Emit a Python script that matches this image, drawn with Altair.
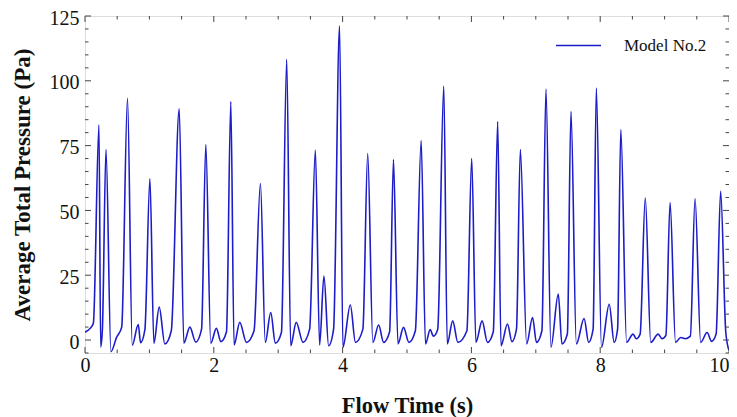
import altair as alt
import pandas as pd

time_s = [0.0, 0.08, 0.13, 0.217, 0.243, 0.27, 0.326, 0.403, 0.49, 0.57,
          0.66, 0.734, 0.827, 0.863, 0.93, 1.008, 1.07, 1.152, 1.24, 1.34,
          1.463, 1.535, 1.628, 1.72, 1.81, 1.876, 1.953, 2.04, 2.11, 2.197,
          2.264, 2.315, 2.403, 2.507, 2.625, 2.724, 2.80, 2.884, 2.956, 3.05,
          3.132, 3.194, 3.28, 3.385, 3.488, 3.577, 3.643, 3.71, 3.783, 3.86,
          3.953, 4.005, 4.12, 4.2, 4.315, 4.39, 4.47, 4.56, 4.636, 4.73,
          4.79, 4.86, 4.946, 5.03, 5.13, 5.22, 5.287, 5.36, 5.41, 5.477,
          5.571, 5.625, 5.71, 5.79, 5.93, 6.005, 6.07, 6.166, 6.25, 6.34,
          6.408, 6.46, 6.56, 6.63, 6.70, 6.76, 6.858, 6.95, 7.01, 7.095,
          7.158, 7.235, 7.349, 7.406, 7.49, 7.546, 7.63, 7.75, 7.82, 7.89,
          7.94, 8.02, 8.14, 8.217, 8.27, 8.32, 8.41, 8.51, 8.56, 8.62,
          8.70, 8.785, 8.9, 8.96, 9.02, 9.085, 9.17, 9.25, 9.32, 9.40,
          9.473, 9.56, 9.66, 9.73, 9.80, 9.87, 9.95, 10.0]
pressure_pa = [3.0, 4.5, 6.5, 83.0, -2.7, 4.0, 73.5, -4.5, 1.0, 5.0,
               93.3, -2.0, 6.0, -1.0, 4.0, 62.2, -1.3, 12.7, -1.5, 3.6,
               89.2, -1.2, 5.0, -0.8, 4.2, 75.4, -1.2, 4.5, -0.6, 3.2,
               92.0, -1.9, 6.8, -0.9, 3.6, 60.4, -0.9, 10.6, -1.2, 2.9,
               108.3, -2.2, 6.8, -0.9, 4.2, 73.2, -1.9, 24.7, -2.2, 4.2,
               121.2, -2.8, 13.5, -0.9, 4.2, 71.9, -0.9, 5.8, -0.9, 3.2,
               69.6, -1.5, 4.9, -0.9, 3.6, 77.0, -1.5, 4.0, 1.5, 4.2,
               98.0, -1.5, 7.4, -0.9, 3.6, 70.0, -0.9, 7.4, -0.9, 3.2,
               84.3, -2.2, 6.2, -0.6, 4.2, 73.5, -1.5, 8.7, -0.9, 3.6,
               96.8, -2.8, 17.7, -1.5, 2.3, 88.2, -1.5, 8.3, -0.9, 4.2,
               97.2, -2.8, 13.8, -0.9, 4.2, 81.2, -0.9, 2.3, 0.5, 2.3,
               54.9, -0.9, 2.3, 0.5, 1.8, 53.0, -0.9, 1.0, 0.5, 1.5,
               54.6, -0.9, 2.9, -0.5, 2.3, 57.4, 3.0, -4.0]
series_name = "Model No.2"

x_major = [0, 2, 4, 6, 8, 10]
x_minor = [0.5, 1, 1.5, 2.5, 3, 3.5, 4.5, 5, 5.5, 6.5, 7, 7.5, 8.5, 9, 9.5]
y_major = [0, 25, 50, 75, 100, 125]
y_minor = [-5, 5, 10, 15, 20, 30, 35, 40, 45, 55, 60, 65, 70, 80, 85, 90, 95,
           105, 110, 115, 120]

W, H = 644, 337
SERIF = "Liberation Serif"
LINE_COLOR = "#1c1cc8"
TICK_COLOR = "#444444"

xs = alt.Scale(domain=[0, 10], nice=False, zero=False)
ys = alt.Scale(domain=[-5, 125], nice=False, zero=False)

x_axis = alt.Axis(values=x_major, format="d", title="Flow Time (s)",
                  grid=False, ticks=False, domain=False, labelPadding=2,
                  labelFlush=False,
                  labelAlign={"expr": "datum.value == 10 ? 'right' : 'center'"},
                  labelFont=SERIF, labelFontSize=20, labelColor="#111",
                  titleFont=SERIF, titleFontSize=22.5, titleFontWeight="bold",
                  titleColor="#111", titlePadding=19)
y_axis = alt.Axis(values=y_major, format="d",
                  title="Average Total Pressure (Pa)",
                  grid=False, ticks=False, domain=False, labelPadding=6,
                  labelFlush=False, labelOffset=2,
                  labelFont=SERIF, labelFontSize=20, labelColor="#111",
                  titleFont=SERIF, titleFontSize=23, titleFontWeight="bold",
                  titleColor="#111", titlePadding=15)

df = pd.DataFrame({"t": time_s, "p": pressure_pa, "series": series_name})

line = alt.Chart(df).mark_line(
    interpolate="monotone", strokeWidth=1.6, clip=True
).encode(
    x=alt.X("t:Q", scale=xs, axis=x_axis),
    y=alt.Y("p:Q", scale=ys, axis=y_axis),
    color=alt.Color("series:N", scale=alt.Scale(range=[LINE_COLOR]),
                    legend=alt.Legend(title=None, orient="none", legendX=470,
                                      legendY=6, symbolType="stroke",
                                      symbolSize=2025, symbolStrokeWidth=1.6,
                                      labelFont=SERIF, labelFontSize=17,
                                      labelColor="#111", labelOffset=22)),
)

def xticks(vals, length):
    d = pd.DataFrame({"v": vals})
    bottom = alt.Chart(d).mark_rule(color=TICK_COLOR, strokeWidth=1).encode(
        x=alt.X("v:Q", scale=xs, axis=x_axis), y=alt.value(H), y2=alt.value(H - length))
    top = alt.Chart(d).mark_rule(color=TICK_COLOR, strokeWidth=1).encode(
        x=alt.X("v:Q", scale=xs, axis=x_axis), y=alt.value(0), y2=alt.value(length))
    return bottom + top

def yticks(vals, length):
    d = pd.DataFrame({"v": vals})
    left = alt.Chart(d).mark_rule(color=TICK_COLOR, strokeWidth=1).encode(
        y=alt.Y("v:Q", scale=ys, axis=y_axis), x=alt.value(0), x2=alt.value(length))
    right = alt.Chart(d).mark_rule(color=TICK_COLOR, strokeWidth=1).encode(
        y=alt.Y("v:Q", scale=ys, axis=y_axis), x=alt.value(W), x2=alt.value(W - length))
    return left + right

chart = alt.layer(
    line,
    xticks(x_major, 6), xticks(x_minor, 3.5),
    yticks(y_major, 6), yticks(y_minor, 3.5),
).properties(
    width=W, height=H,
    padding={"left": 77, "top": 8, "right": 0, "bottom": 64},
    autosize=alt.AutoSizeParams(type="none"),
).configure_view(
    stroke="#333333", strokeWidth=1.5
).configure(background="white")

chart.save("out.html", embed_options={"renderer": "svg", "actions": False})
